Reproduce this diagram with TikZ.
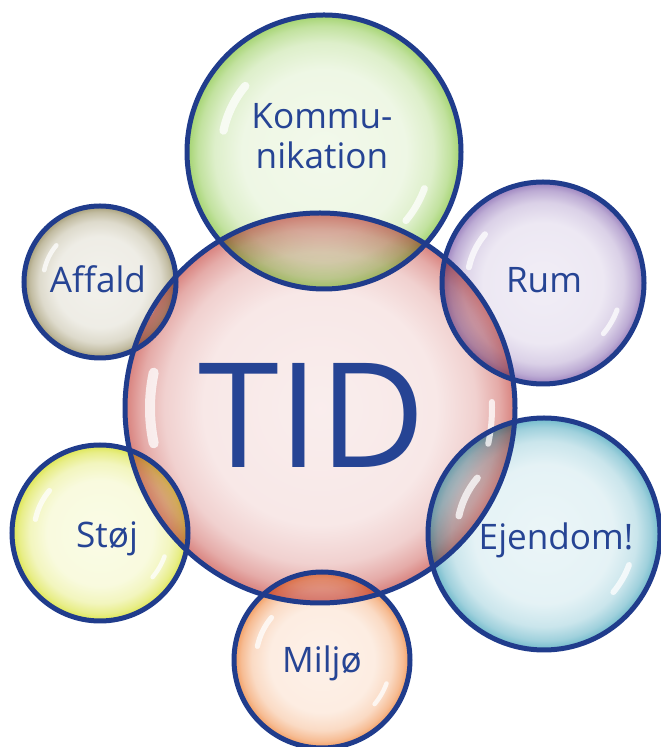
\documentclass[tikz,border=0pt]{standalone}
\usepackage{fontspec}
\setmainfont{Open Sans}
\usetikzlibrary{calc}
\definecolor{rimblue}{RGB}{32,60,140}
\definecolor{textblue}{RGB}{38,68,148}
\definecolor{tidc}{RGB}{210,110,105}
\definecolor{kommc}{RGB}{150,205,90}
\definecolor{affc}{RGB}{150,140,95}
\definecolor{rumc}{RGB}{140,110,180}
\definecolor{ejc}{RGB}{90,175,195}
\definecolor{stojc}{RGB}{215,225,50}
\definecolor{miljc}{RGB}{240,140,70}
\colorlet{bubblec}{tidc}
\pgfdeclareradialshading[bubblec]{bubble}{\pgfpoint{0bp}{0bp}}{%
  color(0bp)=(bubblec!12!white); color(15bp)=(bubblec!16!white);
  color(20bp)=(bubblec!32!white); color(23bp)=(bubblec!58!white);
  color(25bp)=(bubblec!88!white); color(50bp)=(bubblec!88!white)}

\begin{document}
\begin{tikzpicture}[x=0.02cm, y=0.02cm,
  bubble/.style={shading=bubble, /utils/exec={\colorlet{bubblec}{#1}}},
  rim/.style={draw=rimblue, line width=0.1cm},
  gloss/.style={draw=white, opacity=0.75, line cap=round},
  lbl/.style={text=textblue, font=\fontsize{20}{22.7}\selectfont, inner sep=0pt, align=center},
  biglbl/.style={text=textblue, font=\fontsize{83}{83}\selectfont, inner sep=0pt}
]
\useasboundingbox (0,0) rectangle (660,747);

% ---- centre bubble ----
\coordinate (tid) at (320,339);
\shade[bubble=tidc] (tid) circle (195);

% ---- outer bubbles, overlap with centre darkened ----
\foreach \n/\x/\y/\r/\c in {komm/324/595/137/kommc, affald/100/465/76/affc,
    rum/543/464/101/rumc, ejendom/544/213/116/ejc,
    stoj/100/214/88/stojc, miljo/322/87/88/miljc}{
  \coordinate (\n) at (\x,\y);
  \shade[bubble=\c] (\n) circle (\r);
  \begin{scope}[blend mode=multiply]
    \clip (\n) circle (\r);
    \shade[bubble=tidc] (tid) circle (195);
  \end{scope}
}

% ---- gloss streaks ----
\draw[gloss, line width=0.2cm] (tid) ++(168:170) arc[start angle=168, end angle=192, radius=170];
\draw[gloss, line width=0.12cm] (tid) ++(-12:172) arc[start angle=-12, end angle=2, radius=172];
\foreach \n/\r in {komm/137, affald/76, rum/101, ejendom/116, stoj/88, miljo/88}{
  \draw[gloss, line width={0.0012cm*\r}] (\n) ++(140:{0.75*\r}) arc[start angle=140, end angle=168, radius={0.75*\r}];
  \draw[gloss, line width={0.0010cm*\r}] (\n) ++(-40:{0.78*\r}) arc[start angle=-40, end angle=-20, radius={0.78*\r}];
}

% ---- outlines ----
\draw[rim] (tid) circle (195);
\foreach \n/\r in {komm/137, affald/76, rum/101, ejendom/116, stoj/88, miljo/88}
  \draw[rim] (\n) circle (\r);

% ---- labels ----
\node[biglbl] (tidtxt) at (312,332) {TID};
\node[lbl] (kommtxt) at (322,611) {Kommu-\\nikation};
\node[lbl, anchor=base] (afftxt) at (98,454) {Affald};
\node[lbl, anchor=base] (rumtxt) at (544,454) {Rum};
\node[lbl, anchor=base] (ejtxt) at (556,197) {Ejendom!};
\node[lbl, anchor=base] (stojtxt) at (107,199) {Støj};
\node[lbl, anchor=base] (miljotxt) at (322,74) {Miljø};
\end{tikzpicture}
\end{document}
